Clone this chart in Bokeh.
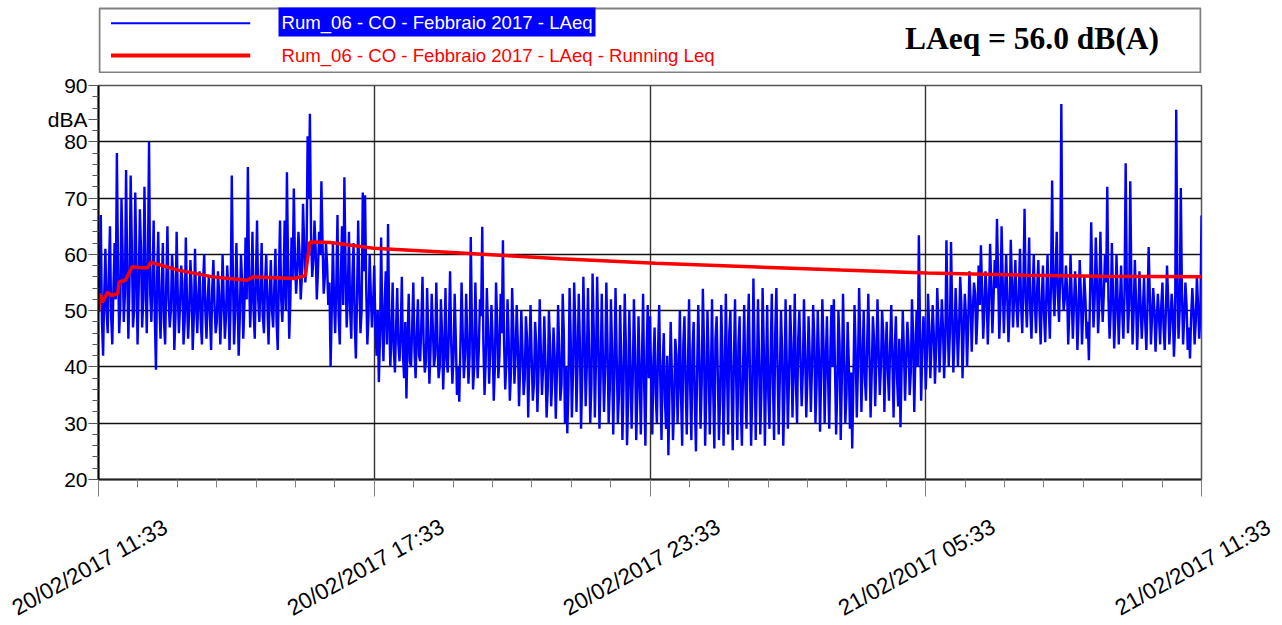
from bokeh.plotting import figure
from bokeh.layouts import column
from bokeh.models import FixedTicker, Range1d, Div
from bokeh.core.properties import value
from bokeh.embed import file_html
from bokeh.resources import INLINE

# ---------------- data ----------------
# LAeq samples (dBA), 20/02/2017 11:33 -> 21/02/2017 11:33.
# "grid" samples every 3 minutes (0, 3, 6 ... min) ...
laeq_11_15 = [50, 67, 42, 61, 46, 65, 44, 62, 78, 46,
              70, 48, 75, 45, 74, 47, 71, 44, 68, 47,
              72, 46, 80, 48, 66, 39.5, 64, 45, 62, 44,
              65, 47, 60, 43, 64, 46, 58, 44, 63, 45,
              59, 43, 61, 46, 57, 44, 60, 45, 56, 43,
              59, 46, 57, 44, 60, 45, 58, 43, 74, 44,
              62, 42, 60, 45, 63, 75.5, 47, 64, 45, 66,
              48, 62, 46, 60, 44, 59, 47, 61, 43, 66]
laeq_15_19 = [48, 66, 74.6, 45, 63, 71.7, 53, 64, 52, 69,
              55, 81, 85, 56, 66, 52, 64, 73, 53, 62,
              51, 40, 62, 46, 67, 44, 65, 73.7, 47, 64,
              45, 62, 41.5, 66, 46, 71, 70.5, 44, 60, 47,
              58, 42, 37.3, 63, 41, 57, 65.4, 40, 55, 39,
              54, 41, 56, 38, 34.4, 53, 40, 55, 38, 52,
              41, 56, 39, 54, 37, 53, 40, 55, 38, 52,
              36, 54, 39, 57, 37, 53, 35, 33.8, 55, 38]
laeq_19_23 = [53, 37, 63.1, 36, 55, 38, 52, 64.9, 35, 54,
              37, 51, 34, 55, 38, 53, 62.5, 36, 52, 34,
              54, 37, 51, 33, 50, 35, 49, 31, 51, 34,
              48, 32, 52, 35, 49, 31, 50, 33, 47, 30.8,
              51, 34, 53, 30, 28.2, 54, 31, 55, 32, 53,
              29, 56, 33, 54, 30, 56.6, 31, 56, 29, 53,
              32, 55, 30, 52, 28, 54, 30, 51, 27, 53,
              26.1, 50, 29, 52, 27, 49, 28, 53, 26, 51]
laeq_23_03 = [49, 28, 47, 30, 51, 27, 46, 29, 24.3, 48,
              27, 45, 30, 50, 26, 49, 28, 52, 27, 48,
              25, 51, 29, 53.9, 26, 50, 28, 52, 25.5, 49,
              27, 51, 26, 53, 28, 50, 25.2, 52, 27, 49,
              26, 51, 29, 53, 26, 55.7, 27, 52, 28, 54,
              26, 51, 29, 53, 27, 54, 28, 50, 26, 52,
              29, 51, 31, 53, 30, 50, 33, 52, 31, 49,
              32, 51, 30, 50, 28.5, 52, 30, 49, 29, 51]
laeq_03_07 = [52, 28, 50, 27, 53, 30, 48, 29, 25.5, 51,
              31, 54, 32, 50, 34, 53, 31, 49, 33, 52,
              35, 50, 32, 48, 34, 51, 31, 49, 33, 29.3,
              50, 34, 48, 35, 52, 32, 50, 63.4, 34, 49,
              36, 53, 38, 51, 37, 54, 39, 52, 38, 62.5,
              40, 62.2, 39, 54, 40, 56, 38, 53, 40, 57,
              42.7, 55, 44, 58, 61.6, 45, 57, 44, 61.9, 46,
              59, 66.3, 45, 65, 46, 60, 44.4, 62.6, 47, 59]
laeq_07_11 = [47, 61, 46, 68.1, 47, 63, 45, 60, 46, 59,
              44, 58, 44.4, 60, 45, 73.1, 49, 64, 48, 86.7,
              50, 58, 44, 60, 45, 57, 43, 59, 44, 56,
              45, 41.2, 65.7, 47, 63, 46, 64, 48, 60, 72,
              45, 62, 43.3, 60, 44, 58, 45, 76.2, 46, 73,
              44, 59, 43, 57, 45, 56, 43, 61.3, 44, 54,
              42.7, 53, 44, 55, 43, 58, 44, 53, 41.8, 85.7,
              45, 71.8, 44, 55, 43, 41.5, 54, 44, 56, 45,
              66.9]
# ... and the in-between samples (1.5, 4.5, 7.5 ... min), mostly in the dense core
mid_11_15 = [55, 48, 53, 50, 57, 49, 54, 52, 58, 51,
             60, 53, 57, 55, 62, 50, 58, 54, 61, 52,
             56, 59, 53, 55, 49, 56, 51, 54, 48, 55,
             52, 50, 56, 49, 53, 51, 55, 48, 52, 50,
             54, 49, 51, 53, 48, 55, 50, 52, 49, 54,
             51, 48, 53, 50, 52, 49, 54, 51, 56, 50,
             53, 49, 55, 51, 52, 57, 53, 50, 56, 52,
             54, 49, 55, 51, 53, 50, 54, 48, 56, 52]
mid_15_19 = [54, 50, 58, 52, 56, 59, 57, 60, 56, 62,
             58, 70, 63, 59, 61, 57, 60, 62, 56, 58,
             55, 50, 52, 55, 49, 57, 51, 58, 53, 50,
             56, 48, 52, 55, 50, 57, 54, 49, 53, 51,
             47, 50, 45, 48, 51, 44, 49, 46, 43, 47,
             44, 46, 42, 48, 45, 41, 47, 43, 46, 42,
             48, 44, 41, 46, 43, 47, 42, 45, 40, 46,
             43, 41, 47, 44, 42, 45, 40, 44, 46, 42]
mid_19_23 = [45, 42, 48, 40, 46, 43, 49, 44, 41, 47,
             43, 45, 40, 48, 42, 46, 44, 41, 45, 39,
             47, 42, 44, 40, 43, 38, 45, 41, 42, 37,
             44, 39, 43, 40, 41, 36, 44, 38, 42, 39,
             43, 37, 46, 40, 36, 45, 39, 47, 41, 44,
             38, 46, 40, 43, 37, 47, 41, 45, 38, 42,
             40, 44, 36, 43, 39, 42, 35, 41, 37, 44,
             34, 40, 38, 43, 35, 39, 41, 36, 42, 38]
mid_23_03 = [38, 41, 35, 43, 37, 40, 34, 42, 36, 39,
             33, 42, 38, 35, 44, 37, 40, 36, 43, 34,
             39, 41, 37, 44, 35, 42, 38, 36, 45, 39,
             34, 43, 37, 40, 46, 36, 41, 38, 44, 33,
             40, 37, 45, 39, 35, 43, 38, 41, 36, 44,
             39, 35, 42, 37, 46, 40, 38, 43, 35, 41,
             38, 44, 40, 37, 45, 41, 39, 43, 38, 42,
             40, 45, 37, 42, 39, 44, 41, 38, 43, 40]
mid_03_07 = [40, 36, 44, 38, 42, 35, 41, 39, 37, 43,
             40, 45, 41, 38, 44, 42, 39, 45, 41, 43,
             40, 46, 42, 39, 44, 41, 43, 38, 45, 40,
             43, 41, 44, 39, 46, 42, 40, 47, 43, 45,
             42, 47, 44, 46, 43, 48, 45, 47, 44, 49,
             46, 50, 45, 48, 47, 51, 46, 49, 48, 52,
             50, 53, 49, 51, 54, 50, 53, 51, 55, 52,
             54, 56, 51, 55, 53, 52, 50, 55, 53, 51]
mid_07_11 = [53, 51, 55, 52, 54, 50, 53, 51, 54, 50,
             52, 49, 53, 51, 55, 54, 57, 53, 56, 55,
             52, 54, 50, 53, 51, 52, 49, 53, 50, 52,
             48, 53, 55, 52, 56, 51, 54, 53, 55, 52,
             50, 53, 49, 52, 51, 50, 53, 55, 51, 54,
             50, 52, 49, 51, 50, 48, 51, 53, 49, 50,
             48, 49, 51, 47, 50, 52, 48, 50, 47, 55,
             50, 53, 49, 51, 47, 49, 50, 48, 51, 49]

grid = laeq_11_15 + laeq_15_19 + laeq_19_23 + laeq_23_03 + laeq_03_07 + laeq_07_11
mids = mid_11_15 + mid_15_19 + mid_19_23 + mid_23_03 + mid_03_07 + mid_07_11
laeq = []
for g, m in zip(grid, mids):
    laeq += [g, m]
laeq += grid[len(mids):]
sample_step_min = 1.5
minutes = [sample_step_min * i for i in range(len(laeq))]

# Running Leq (minutes from start, dBA)
running_min = [0, 2, 5, 12, 16, 25, 27, 35, 44, 57, 64, 68, 104, 149, 170, 194, 202,
               240, 255, 270, 276, 303, 359, 479, 529, 603, 727, 969, 1082, 1210, 1308, 1440]
running_leq = [49.8, 53.0, 51.5, 53.3, 52.7, 53.0, 55.1, 55.4, 57.8, 57.6, 57.6, 58.6, 57.2, 56.0, 55.7, 55.4, 56.0,
               55.8, 55.7, 56.2, 62.2, 62.1, 61.1, 60.2, 59.8, 59.2, 58.4, 57.2, 56.7, 56.3, 56.1, 56.0]

tick_minutes = [0, 360, 720, 1080, 1440]
tick_labels = ["20/02/2017 11:33", "20/02/2017 17:33", "20/02/2017 23:33",
               "21/02/2017 05:33", "21/02/2017 11:33"]
y_major = [20, 30, 40, 50, 60, 70, 80, 90]
y_unit = "dBA"
y_unit_at = 84
series_name = "Rum_06 - CO - Febbraio 2017 - LAeq"
running_name = "Rum_06 - CO - Febbraio 2017 - LAeq - Running Leq"
total_text = "LAeq = 56.0 dB(A)"

SANS = "Liberation Sans"
W = 1282
LEFT, RIGHT = 98, 81          # frame borders of the main chart (px)
FRAME_W = W - LEFT - RIGHT    # 1103 px

# ---------------- legend strip (top) ----------------
TOP_H = 73
top = figure(width=W, height=TOP_H, x_range=Range1d(LEFT, W - RIGHT), y_range=Range1d(TOP_H, 0),
             x_axis_type=None, y_axis_type=None, output_backend="svg", toolbar_location=None,
             min_border_left=LEFT, min_border_right=RIGHT, min_border_top=0, min_border_bottom=0,
             outline_line_color=None)
top.grid.visible = False
top.quad(left=[99], right=[1200], top=[8], bottom=[72], fill_color="white",
         line_color="#808080", line_width=2)
top.line([110.5, 249.7], [22.7, 22.7], line_color="#0000ff", line_width=2)
top.line([110.5, 249.7], [55, 55], line_color="#ff0000", line_width=4)
top.quad(left=[278], right=[595], top=[7], bottom=[36], fill_color="#0000ff", line_color=None)
top.text(x=[281], y=[22], text=[series_name], text_align="left", text_baseline="middle",
         text_font=value(SANS), text_font_size=value("18.6px"), text_color="white")
top.text(x=[281], y=[55], text=[running_name], text_align="left", text_baseline="middle",
         text_font=value(SANS), text_font_size=value("18.6px"), text_color="#ff0000")
top.text(x=[1031.5], y=[38], text=[total_text], text_align="center", text_baseline="middle",
         text_font=value("Liberation Serif"), text_font_style="bold",
         text_font_size=value("31.5px"), text_color="black")

# ---------------- main chart ----------------
MAIN_TOP, FRAME_H, MAIN_BOTTOM = 12, 394, 30
MAIN_H = MAIN_TOP + FRAME_H + MAIN_BOTTOM
p = figure(width=W, height=MAIN_H, x_range=Range1d(0, 1440), y_range=Range1d(20, 90),
           output_backend="svg", toolbar_location=None,
           min_border_left=LEFT, min_border_right=RIGHT, min_border_top=MAIN_TOP,
           min_border_bottom=MAIN_BOTTOM,
           background_fill_color="white", border_fill_color="white")
p.outline_line_color = "#555555"
p.outline_line_width = 1.5

p.line(minutes, laeq, line_color="#0000ff", line_width=2.4)
p.line(running_min, running_leq, line_color="#ff0000", line_width=3.5)

# y axis (the unit "dBA" sits between 80 and 90 like in the original)
y_minor = [v for v in range(22, 90, 2) if v % 10 != 0 and v != y_unit_at]
p.yaxis.ticker = FixedTicker(ticks=y_major + [y_unit_at], minor_ticks=y_minor)
p.yaxis.major_label_overrides = {y_unit_at: y_unit}
p.yaxis.major_label_text_font = SANS
p.yaxis.major_label_text_font_size = "21px"
p.yaxis.major_label_text_color = "black"
p.yaxis.major_label_standoff = 1
p.yaxis.major_tick_out = 10
p.yaxis.major_tick_in = 0
p.yaxis.minor_tick_out = 6
p.yaxis.minor_tick_in = 0
p.yaxis.major_tick_line_color = "#555555"
p.yaxis.minor_tick_line_color = "#555555"
p.yaxis.axis_line_color = "black"
p.yaxis.axis_line_width = 2

# x axis: ticks only (labels are drawn rotated in the strip below)
minor_x = [k * 360 / 7 for k in range(29) if k % 7 != 0]
p.xaxis.ticker = FixedTicker(ticks=tick_minutes, minor_ticks=minor_x)
p.xaxis.major_label_overrides = {t: "" for t in tick_minutes}
p.xaxis.major_label_text_font_size = "1px"
p.xaxis.major_label_standoff = 0
p.xaxis.major_tick_out = 17
p.xaxis.major_tick_in = 0
p.xaxis.minor_tick_out = 8
p.xaxis.minor_tick_in = 0
p.xaxis.major_tick_line_color = "#808080"
p.xaxis.minor_tick_line_color = "#808080"
p.xaxis.axis_line_color = "#222222"
p.xaxis.axis_line_width = 2

# grids
p.ygrid.ticker = FixedTicker(ticks=y_major[1:-1])
p.xgrid.ticker = FixedTicker(ticks=tick_minutes[1:-1])
p.ygrid.grid_line_color = "#111111"
p.ygrid.grid_line_width = 1.6
p.xgrid.grid_line_color = "#333333"
p.xgrid.grid_line_width = 1.4

# ---------------- rotated time labels (bottom strip) ----------------
BOT_H = 625 - TOP_H - MAIN_H
spans = []
for t, lab in zip(tick_minutes, tick_labels):
    cx = LEFT + t * FRAME_W / 1440 - 8
    spans.append(
        f'<span style="position:absolute;left:{cx:.1f}px;top:{568 - (TOP_H + MAIN_H)}px;'
        f'transform:translate(-50%,-50%) rotate(-29deg);white-space:nowrap;'
        f"font-family:'Liberation Sans';font-size:22.5px;line-height:1;color:#000;\">{lab}</span>")
bot = Div(text=f'<div style="position:relative;width:{W}px;height:{BOT_H}px;">' + "".join(spans) + "</div>",
          width=W, height=BOT_H, margin=0)

layout = column(top, p, bot, spacing=0)
open("out.html", "w").write(file_html(layout, INLINE))
